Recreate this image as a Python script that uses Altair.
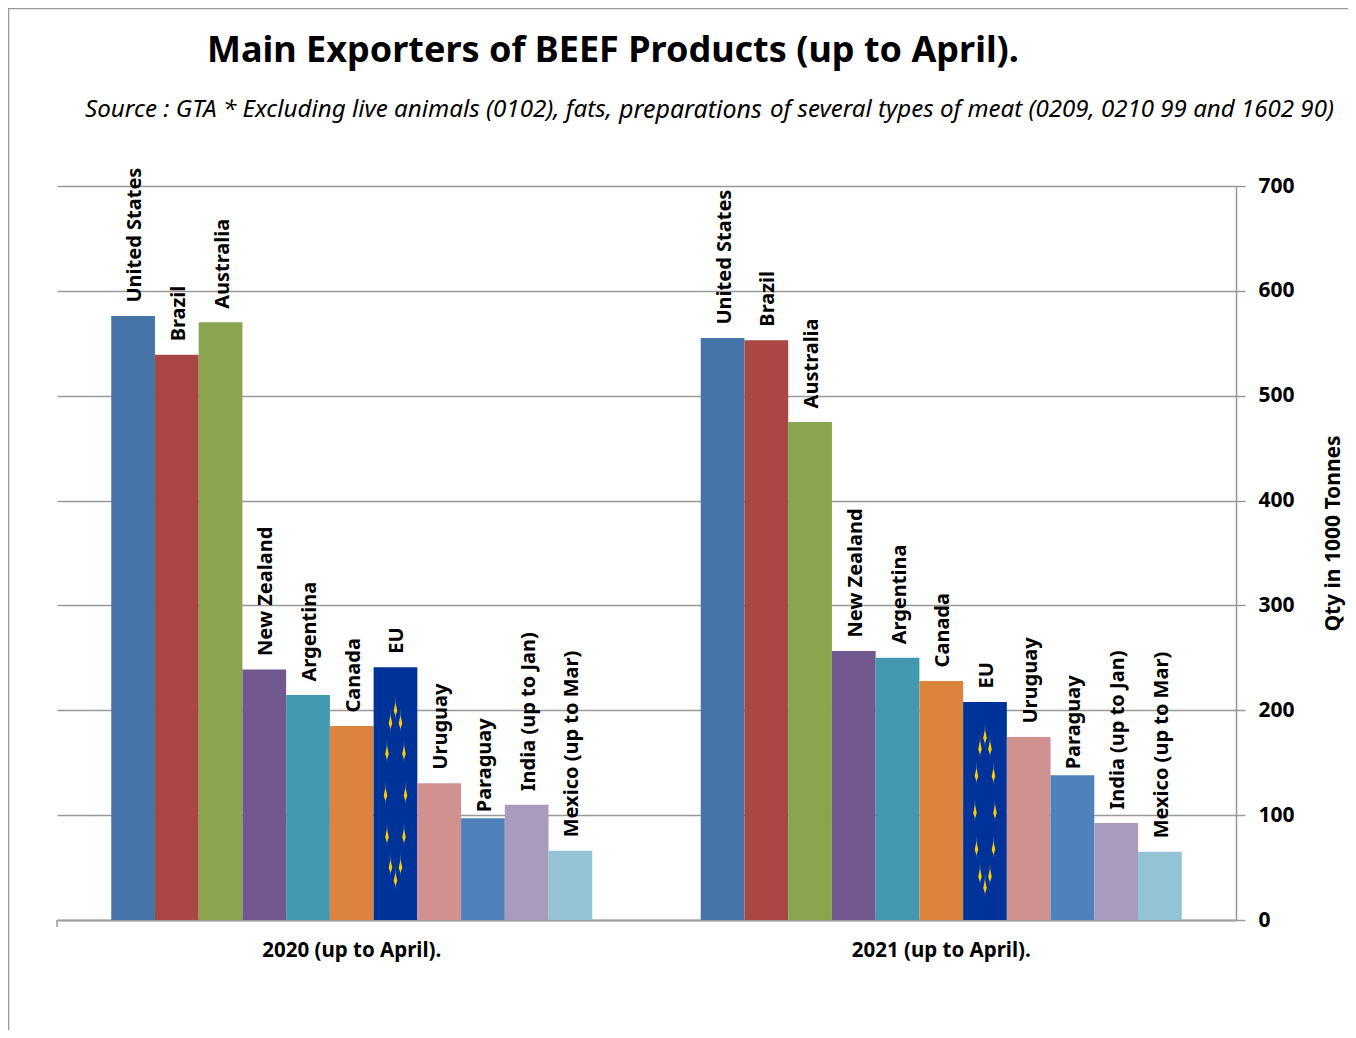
import altair as alt
import pandas as pd

countries = ["United States", "Brazil", "Australia", "New Zealand", "Argentina", "Canada", "EU",
             "Uruguay", "Paraguay", "India (up to Jan)", "Mexico (up to Mar)"]
values_2020 = [576, 539, 570, 239, 214.5, 185, 241, 130.5, 97, 110, 66]
values_2021 = [555, 553, 475, 256.5, 250, 228, 208, 174.5, 138, 92.5, 65]
colors = ["#4774A8", "#AA4643", "#89A54E", "#71588F", "#4198AF", "#DB843D", "#003399",
          "#D09291", "#4F81BD", "#A99BBD", "#93C3D5"]
groups = ["2020 (up to April).", "2021 (up to April)."]

FONT = "Noto Sans"
GREY = "#999999"

rows = []
for g, vals in zip(groups, [values_2020, values_2021]):
    for c, v in zip(countries, vals):
        rows.append({"group": g, "country": c, "value": v})
df = pd.DataFrame(rows)

x = alt.X("group:N", sort=groups, title=None,
          scale=alt.Scale(paddingInner=0.184, paddingOuter=0.092),
          axis=alt.Axis(labelAngle=0, labelFont=FONT, labelFontWeight="bold", labelFontSize=20.5,
                        labelColor="#000000", labelPadding=20, ticks=False,
                        domainColor="#A0A0A0", domainWidth=2))
xo = alt.XOffset("country:N", sort=countries, scale=alt.Scale(paddingInner=0, paddingOuter=0))
y_axis = alt.Axis(orient="right", values=[0, 100, 200, 300, 400, 500, 600, 700], grid=True,
                  gridColor=GREY, gridWidth=1.5, domainColor=GREY, domainWidth=1.5,
                  tickColor=GREY, tickSize=9, tickWidth=1.5,
                  labelFont=FONT, labelFontWeight="bold", labelFontSize=21, labelColor="#000000",
                  labelPadding=13, titleFont=FONT, titleFontWeight="bold", titleFontSize=21,
                  titleColor="#000000", titleAngle=270, titleX=97, titleY=347,
                  titleAlign="center", titleBaseline="middle")
y_scale = alt.Scale(domain=[0, 700], nice=False)
y = alt.Y("value:Q", title="Qty in 1000 Tonnes", scale=y_scale, axis=y_axis)

bars = alt.Chart(df).mark_bar().encode(
    x=x, xOffset=xo, y=y,
    color=alt.Color("country:N", sort=countries, legend=None,
                    scale=alt.Scale(domain=countries, range=colors)))


def label_layer(frame, gap):
    return alt.Chart(frame).mark_text(angle=270, align="left", baseline="middle", dx=gap, dy=2, font=FONT,
                                      fontWeight="bold", fontSize=20, color="#000000").encode(
        x=x, xOffset=xo, y=y, text="country:N")


labels = label_layer(df[df.country != "Paraguay"], 13.5)
labels_close = label_layer(df[df.country == "Paraguay"], 6)


def ring_path(half_h, up, down, width):
    """Twelve narrow sparkles of the flag, spread over half_h of half-height (in px)."""
    pts = [(0, -1), (-5, -.85), (5, -.85), (-8.5, -.49), (8.5, -.49), (-10, 0), (10, 0),
           (-8.5, .49), (8.5, .49), (-5, .85), (5, .85), (0, 1)]
    out = []
    for dx, dy in pts:
        cy = dy * half_h
        out.append(f"M{dx} {cy - up:.1f}L{dx + width} {cy + 2:.1f}L{dx} {cy + down:.1f}L{dx - width} {cy + 2:.1f}Z")
    return "".join(out)


def flag_stars(group, half_h):
    base = alt.Chart(df[(df.country == "EU") & (df.group == group)]).transform_calculate(
        mid="datum.value / 2")
    enc = dict(x=x, xOffset=xo, y=alt.Y("mid:Q", title="Qty in 1000 Tonnes", scale=y_scale, axis=y_axis))
    tails = base.mark_point(shape=ring_path(half_h, 13, 11, 1.0), filled=True, size=4, opacity=0.55,
                            color="#A89A50").encode(**enc)
    core = base.mark_point(shape=ring_path(half_h, 6, 7, 1.8), filled=True, size=4, opacity=1,
                           color="#FFCC00").encode(**enc)
    return tails + core


def text_mark(txt, px, py, size, weight="normal", style="normal", align="left", angle=0):
    return alt.Chart(pd.DataFrame({"t": [txt]})).mark_text(
        align=align, baseline="middle", font=FONT, fontSize=size, fontWeight=weight, fontStyle=style,
        color="#000000", angle=angle).encode(x=alt.value(px), y=alt.value(py), text="t:N")


OX, OY = 57, 186  # plot origin on the page
title = text_mark("Main Exporters of BEEF Products (up to April).", 207 - OX, 51 - OY, 36, weight="bold")
sub1 = text_mark("Source : GTA * Excluding live animals (0102), fats,", 85 - OX, 110 - OY, 24.2, style="italic")
sub2 = text_mark("preparations", 619 - OX, 110 - OY, 25, style="italic")
sub3 = text_mark("of several types of meat (0209, 0210 99 and 1602 90)", 770 - OX, 110 - OY, 24.1, style="italic")

frame_df = pd.DataFrame({"a": [0]})
frame_left = alt.Chart(frame_df).mark_rule(color=GREY, strokeWidth=1.5).encode(
    x=alt.value(8.5 - OX), y=alt.value(8 - OY), y2=alt.value(1030 - OY))
frame_top = alt.Chart(frame_df).mark_rule(color=GREY, strokeWidth=1.5).encode(
    y=alt.value(8.5 - OY), x=alt.value(8 - OX), x2=alt.value(1348 - OX))
tick_left = alt.Chart(frame_df).mark_rule(color=GREY, strokeWidth=1.5).encode(
    x=alt.value(0), y=alt.value(734), y2=alt.value(741))

chart = alt.layer(bars, flag_stars(groups[0], 85), flag_stars(groups[1], 75), labels, labels_close,
                  title, sub1, sub2, sub3, frame_left, frame_top, tick_left).resolve_scale(
    y="shared").properties(
    width=1179, height=734,
    autosize=alt.AutoSizeParams(type="none"),
    padding={"left": 49, "top": 178, "right": 112, "bottom": 110},
    background="#ffffff"
).configure_view(stroke=None)

chart.save("out.html", embed_options={"renderer": "svg", "actions": False})
